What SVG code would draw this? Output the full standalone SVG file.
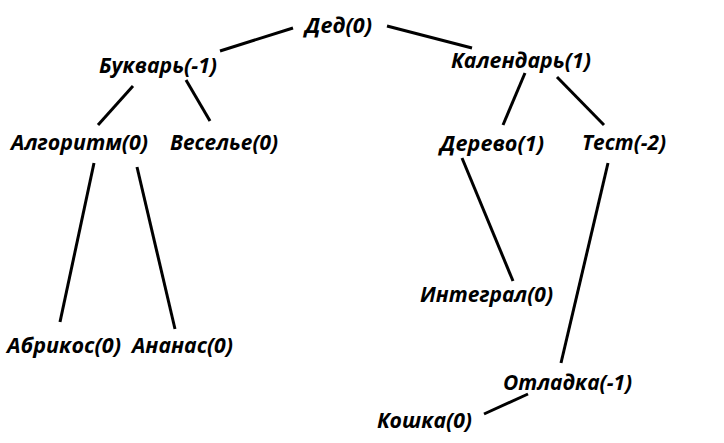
<svg xmlns="http://www.w3.org/2000/svg" width="724" height="443" viewBox="0 0 724 443">
<style>
.t{font-family:"Open Sans","Liberation Sans",sans-serif;font-weight:bold;font-style:italic;font-size:21px;fill:#000}
.e{stroke:#000;stroke-width:3;stroke-linecap:butt;fill:none}
</style>
<rect width="724" height="443" fill="#fff"/>
<g id="edges">
<line class="e" x1="220" y1="51" x2="293" y2="28"/>
<line class="e" x1="387" y1="26" x2="472" y2="48"/>
<line class="e" x1="133" y1="86" x2="98" y2="125"/>
<line class="e" x1="186" y1="80" x2="210" y2="121"/>
<line class="e" x1="525" y1="73" x2="503" y2="125"/>
<line class="e" x1="557" y1="77" x2="604" y2="125"/>
<line class="e" x1="94" y1="163" x2="60" y2="322"/>
<line class="e" x1="137" y1="167" x2="175" y2="329"/>
<line class="e" x1="462" y1="158" x2="513" y2="281"/>
<line class="e" x1="608" y1="163" x2="561" y2="363"/>
<line class="e" x1="528" y1="394" x2="484" y2="414"/>
</g>
<g id="n-ded"><text class="t" x="305" y="33" textLength="67" lengthAdjust="spacingAndGlyphs">Дед(0)</text></g>
<g id="n-bukvar"><text class="t" x="99" y="73" textLength="118" lengthAdjust="spacingAndGlyphs">Букварь(-1)</text></g>
<g id="n-kalendar"><text class="t" x="451" y="68" textLength="140" lengthAdjust="spacingAndGlyphs">Календарь(1)</text></g>
<g id="n-algoritm"><text class="t" x="11" y="150" textLength="137" lengthAdjust="spacingAndGlyphs">Алгоритм(0)</text></g>
<g id="n-veselye"><text class="t" x="170" y="150" textLength="108" lengthAdjust="spacingAndGlyphs">Веселье(0)</text></g>
<g id="n-derevo"><text class="t" x="440" y="151" textLength="104" lengthAdjust="spacingAndGlyphs">Дерево(1)</text></g>
<g id="n-test"><text class="t" x="582" y="150" textLength="84" lengthAdjust="spacingAndGlyphs">Тест(-2)</text></g>
<g id="n-integral"><text class="t" x="420" y="302" textLength="133" lengthAdjust="spacingAndGlyphs">Интеграл(0)</text></g>
<g id="n-abrikos"><text class="t" x="7" y="353" textLength="114" lengthAdjust="spacingAndGlyphs">Абрикос(0)</text></g>
<g id="n-ananas"><text class="t" x="132" y="353" textLength="101" lengthAdjust="spacingAndGlyphs">Ананас(0)</text></g>
<g id="n-otladka"><text class="t" x="503" y="390" textLength="129" lengthAdjust="spacingAndGlyphs">Отладка(-1)</text></g>
<g id="n-koshka"><text class="t" x="377" y="428" textLength="95" lengthAdjust="spacingAndGlyphs">Кошка(0)</text></g>
</svg>
